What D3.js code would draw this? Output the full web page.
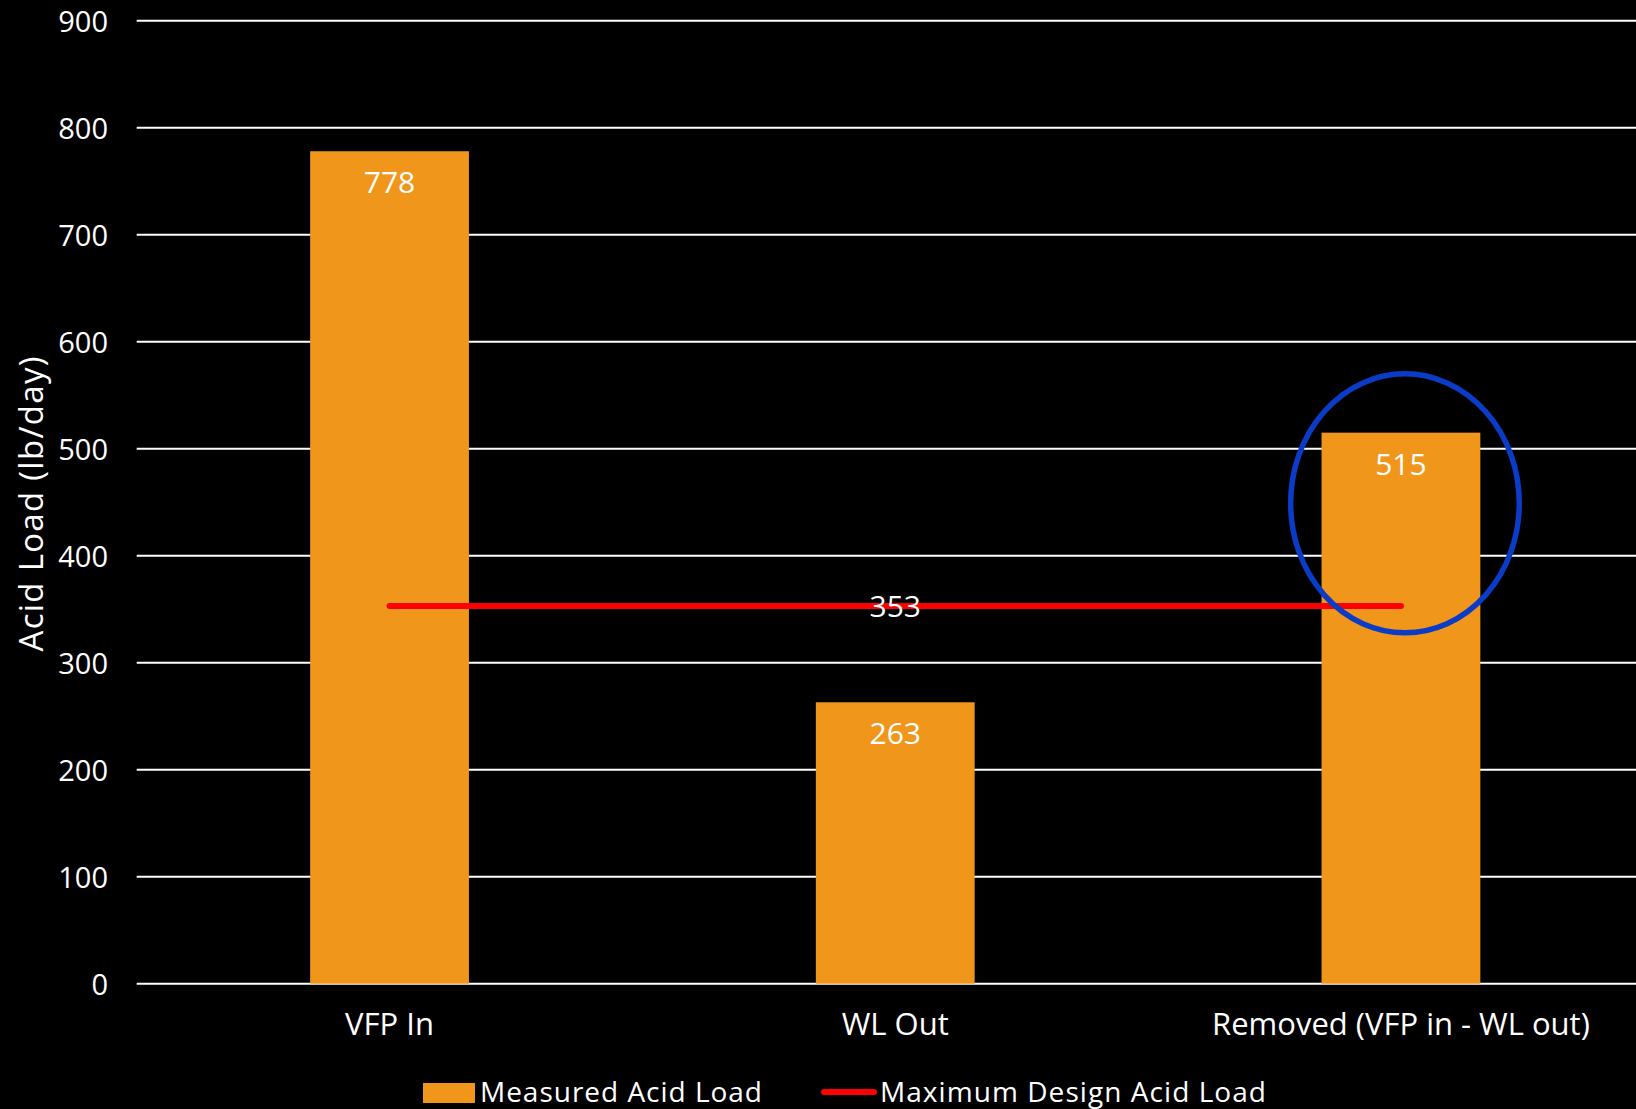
<!DOCTYPE html>
<html>
<head>
<meta charset="utf-8">
<script src="https://cdn.jsdelivr.net/npm/d3@7"></script>
<style>
  html, body { margin: 0; padding: 0; background: #000; overflow: hidden; }
  svg { display: block; }
  text { font-family: "Open Sans", "Noto Sans", sans-serif; fill: #fff; }
</style>
</head>
<body>
<svg id="chart" width="1636" height="1109"></svg>
<script>
// Acid load per stage (lb/day)
const categories = ["VFP In", "WL Out", "Removed (VFP in - WL out)"];
const measuredLoad = [778, 263, 515];
const designLoad = [353, 353, 353];
const yTicks = [0, 100, 200, 300, 400, 500, 600, 700, 800, 900];
const seriesNames = ["Measured Acid Load", "Maximum Design Acid Load"];
// Highlight around the removed load
const highlight = { category: "Removed (VFP in - WL out)", value: 449, halfSpan: 121 };

const W = 1636, H = 1109;
const svg = d3.select("#chart");
svg.append("rect").attr("width", W).attr("height", H).attr("fill", "#000");

const y = d3.scaleLinear().domain([0, 900]).range([983.7, 20.7]);
const x = d3.scaleBand().domain(categories).range([136.7, 1653.8])
  .paddingInner(0.686).paddingOuter(0.343);

// Gridlines + value axis labels
const yAxis = d3.axisLeft(y).tickValues(yTicks).tickSize(0).tickPadding(0);
const gy = svg.append("g").attr("transform", "translate(108,0)").call(yAxis);
gy.select(".domain").remove();
gy.selectAll("text").attr("font-size", 29).attr("fill", "#fff")
  .style("font-family", "'Open Sans', sans-serif").attr("dy", "0.36em");

svg.append("g").selectAll("line").data(yTicks).join("line")
  .attr("x1", 136.7).attr("x2", W)
  .attr("y1", d => y(d)).attr("y2", d => y(d))
  .attr("stroke", "#fff").attr("stroke-width", 2);

// Bars
svg.append("g").selectAll("rect").data(measuredLoad).join("rect")
  .attr("x", (d, i) => x(categories[i]))
  .attr("width", x.bandwidth())
  .attr("y", d => y(d))
  .attr("height", d => y(0) - y(d))
  .attr("fill", "#F0961A");

// Bar value labels
svg.append("g").selectAll("text").data(measuredLoad).join("text")
  .attr("x", (d, i) => x(categories[i]) + x.bandwidth() / 2)
  .attr("y", d => y(d) + 42)
  .attr("text-anchor", "middle").attr("font-size", 30)
  .text(d => d);

// Design limit line
const line = d3.line()
  .x((d, i) => x(categories[i]) + x.bandwidth() / 2)
  .y(d => y(d));
svg.append("path").datum(designLoad)
  .attr("d", line).attr("fill", "none")
  .attr("stroke", "#FF0000").attr("stroke-width", 6)
  .attr("stroke-linecap", "round");

svg.append("text")
  .attr("x", x(categories[1]) + x.bandwidth() / 2)
  .attr("y", y(designLoad[1]) + 11)
  .attr("text-anchor", "middle").attr("font-size", 30)
  .text(designLoad[1]);

// Highlight ellipse
svg.append("ellipse")
  .attr("cx", x(highlight.category) + x.bandwidth() / 2 + 4)
  .attr("cy", y(highlight.value))
  .attr("rx", x.bandwidth() * 0.72)
  .attr("ry", (y(0) - y(highlight.halfSpan)))
  .attr("fill", "none").attr("stroke", "#0A3CC8").attr("stroke-width", 5.5);

// Category axis labels
svg.append("g").selectAll("text").data(categories).join("text")
  .attr("x", d => x(d) + x.bandwidth() / 2)
  .attr("y", 1035)
  .attr("text-anchor", "middle").attr("font-size", 31)
  .text(d => d);

// Y axis title
svg.append("text")
  .attr("transform", "translate(43,504) rotate(-90)")
  .attr("text-anchor", "middle").attr("font-size", 33)
  .attr("textLength", 295).attr("lengthAdjust", "spacing")
  .text("Acid Load (lb/day)");

// Legend
const leg = svg.append("g");
leg.append("rect").attr("x", 423).attr("y", 1083).attr("width", 52).attr("height", 20)
  .attr("fill", "#F0961A");
leg.append("text").attr("x", 480).attr("y", 1102).attr("font-size", 28)
  .attr("textLength", 282).attr("lengthAdjust", "spacing")
  .text(seriesNames[0]);
leg.append("line").attr("x1", 824).attr("x2", 874).attr("y1", 1092).attr("y2", 1092)
  .attr("stroke", "#FF0000").attr("stroke-width", 6).attr("stroke-linecap", "round");
leg.append("text").attr("x", 880).attr("y", 1102).attr("font-size", 28)
  .attr("textLength", 386).attr("lengthAdjust", "spacing")
  .text(seriesNames[1]);
</script>
</body>
</html>
